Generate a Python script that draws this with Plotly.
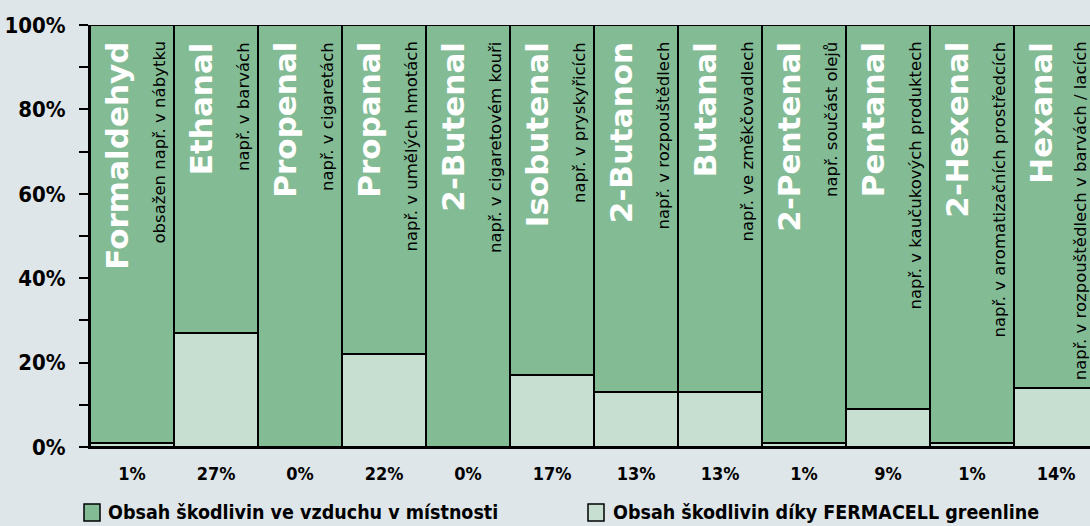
import plotly.graph_objects as go

# ---- data ----
names = ["Formaldehyd", "Ethanal", "Propenal", "Propanal", "2-Butenal", "Isobutenal",
         "2-Butanon", "Butanal", "2-Pentenal", "Pentanal", "2-Hexenal", "Hexanal"]
uses = ["obsažen např. v nábytku", "např. v barvách", "např. v cigaretách",
        "např. v umělých hmotách", "např. v cigaretovém kouři", "např. v pryskyřicích",
        "např. v rozpouštědlech", "např. ve změkčovadlech", "např. součást olejů",
        "např. v kaučukových produktech", "např. v aromatizačních prostředcích",
        "např. v rozpouštědlech v barvách / lacích"]
greenline = [1, 27, 0, 22, 0, 17, 13, 13, 1, 9, 1, 14]
room = [100 - v for v in greenline]
tick_labels = [f"{v}%" for v in greenline]
y_ticks = [0, 20, 40, 60, 80, 100]
y_tick_labels = [f"{v}%" for v in y_ticks]
legend_room = "Obsah škodlivin ve vzduchu v místnosti"
legend_green = "Obsah škodlivin díky FERMACELL greenline"

DARK = "#83bb95"
LIGHT = "#c6dfd0"
BG = "#dfe6e9"
COND = "Liberation Sans Narrow, DejaVu Sans Condensed, Arial Narrow, sans-serif"

x = list(range(len(names)))

W, H, L, T = 1000, 422, 90, 25
BAR_PX = 84.0
x_max = -0.5 + W / BAR_PX

fig = go.Figure()
fig.add_trace(go.Bar(x=x, y=greenline, marker=dict(color=LIGHT, line=dict(color="black", width=2)),
                     name=legend_green, showlegend=False))
fig.add_trace(go.Bar(x=x, y=room, marker=dict(color=DARK, line=dict(color="black", width=2)),
                     name=legend_room, showlegend=False))

for i, (n, u) in enumerate(zip(names, uses)):
    fig.add_annotation(x=i - 0.18, y=96.5, xref="x", yref="y", text=n, textangle=-90,
                       showarrow=False, xanchor="center", yanchor="top",
                       font=dict(family="DejaVu Sans", size=31, color="white", weight="bold"))
    fig.add_annotation(x=min(i + 0.33, x_max - 10 / BAR_PX), y=96.5, xref="x", yref="y",
                       text=u, textangle=-90,
                       showarrow=False, xanchor="center", yanchor="top",
                       font=dict(family="DejaVu Sans", size=16.5, color="black"))

# custom legend
def px_x(p):
    return (p - L) / W
def px_y(p):
    return (T + H - p) / H

for (x0, x1, col, txt, tx) in [(84, 100, DARK, legend_room, 106), (588, 604, LIGHT, legend_green, 611)]:
    fig.add_shape(type="rect", xref="paper", yref="paper", x0=px_x(x0), x1=px_x(x1),
                  y0=px_y(521), y1=px_y(504), fillcolor=col, line=dict(color="black", width=1.5))
    fig.add_annotation(x=px_x(tx), y=px_y(512.5), xref="paper", yref="paper", text=txt,
                       showarrow=False, xanchor="left", yanchor="middle",
                       font=dict(family=COND, size=19.5, color="black", weight="bold"))

fig.update_layout(
    width=1090, height=526,
    margin=dict(l=L, r=0, t=T, b=526 - T - H, pad=0, autoexpand=False),
    paper_bgcolor=BG, plot_bgcolor=BG,
    barmode="stack", bargap=0,
    showlegend=False,
)
fig.update_xaxes(range=[-0.5, x_max], tickvals=x, ticktext=tick_labels,
                 showgrid=False, zeroline=False, showline=True, linecolor="black", linewidth=2,
                 ticks="", ticklabelstandoff=9, automargin=False,
                 tickfont=dict(family=COND, size=18, color="black", weight="bold"))
fig.update_yaxes(range=[0, 100], tickvals=y_ticks, ticktext=y_tick_labels,
                 showgrid=False, zeroline=False, showline=True, linecolor="black", linewidth=2,
                 ticks="outside", ticklen=9, tickwidth=2, tickcolor="black", ticklabelstandoff=9,
                 automargin=False,
                 minor=dict(tickvals=[10, 30, 50, 70, 90], ticks="outside", ticklen=9,
                            tickwidth=2, tickcolor="black"),
                 tickfont=dict(family=COND, size=22, color="black", weight="bold"))

fig.write_html("out.html", config={"displayModeBar": False},
               post_script="document.body.style.margin='0';")
